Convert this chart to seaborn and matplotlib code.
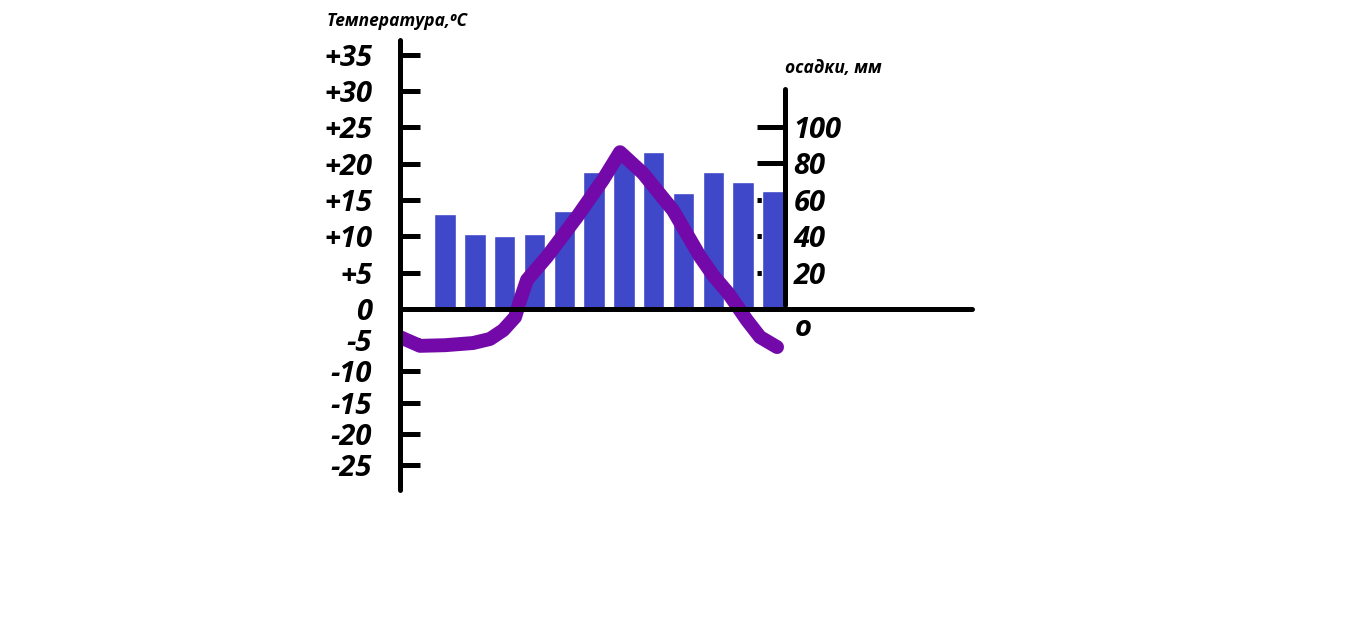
import matplotlib
matplotlib.use('Agg')
import matplotlib.pyplot as plt
import numpy as np
import seaborn as sns

months = ['янв', 'фев', 'мар', 'апр', 'май', 'июн', 'июл', 'авг', 'сен', 'окт', 'ноя', 'дек']
precip_mm = [52, 41, 40, 41, 54, 75, 82, 86, 64, 75, 70, 65]

# hand-drawn temperature curve: position along the month axis (0 = Jan), degrees C
temp_pos = [-1.51, -0.84, 0.0, 0.94, 1.51, 1.95, 2.35, 2.52, 2.75, 3.42, 4.43, 5.30,
			5.87, 6.64, 7.65, 8.56, 9.0, 9.5, 10.13, 10.57, 11.14]
temp_c = [-4.5, -5.9, -5.8, -5.45, -4.8, -3.4, -1.3, 1.2, 4.0, 7.2, 12.7, 17.8,
		  21.6, 18.7, 13.6, 7.2, 4.6, 2.2, -1.8, -4.5, -6.1]

temp_ticks = [35, 30, 25, 20, 15, 10, 5, 0, -5, -10, -15, -20, -25]
temp_labels = ['+35', '+30', '+25', '+20', '+15', '+10', '+5', '0', '-5', '-10', '-15', '-20', '-25']
precip_ticks = [20, 40, 60, 80, 100]

BAR = '#3e48c8'
LINE = '#7209a8'
LW = 3.6

sns.set_theme(style='white')
plt.rcParams['font.family'] = ['Open Sans', 'DejaVu Sans']
plt.rcParams['text.color'] = 'black'

# the drawn axis is squeezed below zero
k_neg = 6.24 / 7.26
def fwd(t):
	t = np.asarray(t, dtype=float)
	return np.where(t >= 0, t, t * k_neg)
def inv(u):
	u = np.asarray(u, dtype=float)
	return np.where(u >= 0, u, u / k_neg)

fig = plt.figure(figsize=(13.5, 6.29), dpi=100)
ax = fig.add_axes([0.2963, 0.2210, 0.4237, 0.7154])
ax2 = ax.twinx()

# precipitation bars
sns.barplot(x=months, y=precip_mm, ax=ax2, color=BAR, saturation=1, width=0.72)
ax2.set_ylim(-99.45, 147.8)
ax2.set_axisbelow(True)
for s in ['left', 'top', 'bottom']:
	ax2.spines[s].set_visible(False)
ax2.spines['right'].set_position(('data', 11.41))
ax2.spines['right'].set_bounds(2, 121)
ax2.spines['right'].set_linewidth(LW)
ax2.spines['right'].set_color('black')
ax2.spines['right'].set_capstyle('round')
ax2.set_yticks(precip_ticks)
ax2.tick_params(axis='y', direction='in', length=20, width=LW, pad=6, labelsize=21, colors='black')
for t in ax2.get_yticklabels():
	t.set_fontweight('bold')
	t.set_fontstyle('italic')
ax2.set_ylabel('')
ax2.annotate('o', xy=(11.41, 0), xytext=(13, -14), textcoords='offset points', color='black',
			 ha='center', va='center', fontsize=21, fontweight='bold', fontstyle='italic')

# temperature curve
sns.lineplot(x=temp_pos, y=temp_c, ax=ax, sort=False, estimator=None, color=LINE, linewidth=10)
for ln in ax.get_lines():
	ln.set_solid_capstyle('round')
	ln.set_solid_joinstyle('round')

ax.set_yscale('function', functions=(fwd, inv))
ax.set_ylim(-29.0, 37.05)
ax.set_xlim(-1.51, 17.68)
ax.set_zorder(ax2.get_zorder() + 1)
ax.patch.set_visible(False)

ax.spines['top'].set_visible(False)
ax.spines['right'].set_visible(False)
ax.spines['bottom'].set_position(('data', 0))
for s in ['left', 'bottom']:
	ax.spines[s].set_linewidth(LW)
	ax.spines[s].set_color('black')
	ax.spines[s].set_capstyle('round')

ax.set_yticks(temp_ticks, temp_labels)
ax.yaxis.set_minor_locator(matplotlib.ticker.NullLocator())
ax.tick_params(axis='y', direction='in', length=14.4, width=LW, pad=20, labelsize=21, colors='black')
for t in ax.get_yticklabels():
	t.set_fontweight('bold')
	t.set_fontstyle('italic')
ax.set_xticks(range(len(months)))
ax.tick_params(axis='x', direction='out', length=11, width=LW, labelbottom=False, colors='black')
ax.set_xlabel('')
ax.set_ylabel('')

fig.text(397 / 1350, 1 - 21 / 629, 'Температура,⁰C', ha='center', va='center', color='black',
		 fontsize=12.5, fontweight='bold', fontstyle='italic')
fig.text(833 / 1350, 1 - 68 / 629, 'осадки, мм', ha='center', va='center', color='black',
		 fontsize=12.5, fontweight='bold', fontstyle='italic')

fig.savefig('out.png', dpi=100)
